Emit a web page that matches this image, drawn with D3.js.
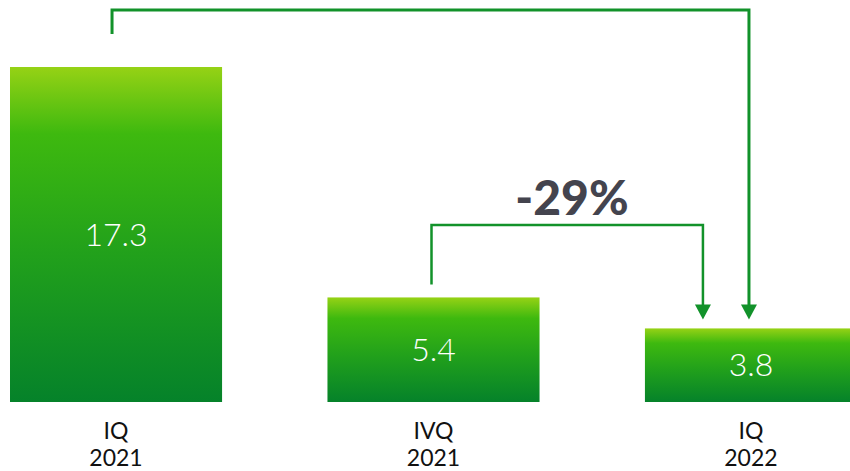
<!DOCTYPE html>
<html>
<head>
<meta charset="utf-8">
<script src="https://cdn.jsdelivr.net/npm/d3@7"></script>
<style>
  html, body { margin: 0; padding: 0; background: #fff; overflow: hidden; }
  svg { display: block; }
</style>
</head>
<body>
<svg id="chart" width="850" height="471"></svg>
<script>
// Quarterly values
const categories = ["IQ 2021", "IVQ 2021", "IQ 2022"];
const quarterLabels = [["IQ", "2021"], ["IVQ", "2021"], ["IQ", "2022"]];
const values = [17.3, 5.4, 3.8];
const changeLabel = "-29%";

const svg = d3.select("#chart");
const lineColor = "#12922a";

const x = d3.scaleBand()
  .domain(categories)
  .range([10, 857])
  .paddingInner(0.332)
  .paddingOuter(0);

const y = d3.scaleLinear()
  .domain([0, 17.3])
  .range([402, 67]);

// vertical gradient for bars
const defs = svg.append("defs");
const grad = defs.append("linearGradient")
  .attr("id", "barGrad")
  .attr("x1", 0).attr("y1", 0).attr("x2", 0).attr("y2", 1);
grad.append("stop").attr("offset", "0%").attr("stop-color", "#96d215");
grad.append("stop").attr("offset", "20%").attr("stop-color", "#3eb90f");
grad.append("stop").attr("offset", "55%").attr("stop-color", "#22a11b");
grad.append("stop").attr("offset", "100%").attr("stop-color", "#05822a");

const data = categories.map((c, i) => ({ cat: c, value: values[i], label: quarterLabels[i] }));

// bars
svg.selectAll("rect.bar")
  .data(data)
  .join("rect")
  .attr("class", "bar")
  .attr("x", d => x(d.cat))
  .attr("y", d => y(d.value))
  .attr("width", x.bandwidth())
  .attr("height", d => y(0) - y(d.value))
  .attr("fill", "url(#barGrad)");

// value labels inside bars
svg.selectAll("text.val")
  .data(data)
  .join("text")
  .attr("class", "val")
  .attr("x", d => x(d.cat) + x.bandwidth() / 2)
  .attr("y", d => (y(d.value) + y(0)) / 2 + 11)
  .attr("text-anchor", "middle")
  .attr("fill", "#fff")
  .style("font-family", "Lato, 'Open Sans', sans-serif")
  .style("font-weight", 300)
  .style("font-size", "32px")
  .text(d => d.value.toFixed(1));

// category labels below bars
const cat = svg.selectAll("text.cat")
  .data(data)
  .join("text")
  .attr("class", "cat")
  .attr("text-anchor", "middle")
  .attr("fill", "#111")
  .style("font-family", "Lato, 'Open Sans', sans-serif")
  .style("font-weight", 400)
  .style("font-size", "23px");
cat.each(function(d) {
  const t = d3.select(this);
  const cx = x(d.cat) + x.bandwidth() / 2;
  t.append("tspan").attr("x", cx).attr("y", 439).text(d.label[0]);
  t.append("tspan").attr("x", cx).attr("y", 466).text(d.label[1]);
});

// comparison brackets
const c0 = x(categories[0]) + x.bandwidth() / 2;
const c1 = x(categories[1]) + x.bandwidth() / 2;
const c2 = x(categories[2]) + x.bandwidth() / 2;
const tipY = y(values[2]) - 9;
const headH = 15, headW = 16;

function bracket(points, width) {
  const last = points[points.length - 1];
  const pts = points.slice(0, -1).concat([[last[0], last[1] - headH + 1]]);
  svg.append("path")
    .attr("d", d3.line()(pts))
    .attr("fill", "none")
    .attr("stroke", lineColor)
    .attr("stroke-width", width);
  svg.append("path")
    .attr("d", d3.line()([[last[0] - headW / 2, last[1] - headH], [last[0] + headW / 2, last[1] - headH], [last[0], last[1]]]) + "Z")
    .attr("fill", lineColor);
}

// IQ 2021 -> IQ 2022
bracket([[c0 - 4, y(values[0]) - 33], [c0 - 4, 10], [c2 - 2, 10], [c2 - 2, tipY]], 3);

// IVQ 2021 -> IQ 2022
const leftX2 = x(categories[2]) + 58;
bracket([[c1 - 2, y(values[1]) - 13], [c1 - 2, 225], [leftX2, 225], [leftX2, tipY]], 2.5);

svg.append("text")
  .attr("x", 572)
  .attr("y", 215)
  .attr("text-anchor", "middle")
  .attr("fill", "#44444e")
  .style("font-family", "Lato, sans-serif")
  .style("font-weight", 900)
  .style("font-size", "48px")
  .text(changeLabel);
</script>
</body>
</html>
